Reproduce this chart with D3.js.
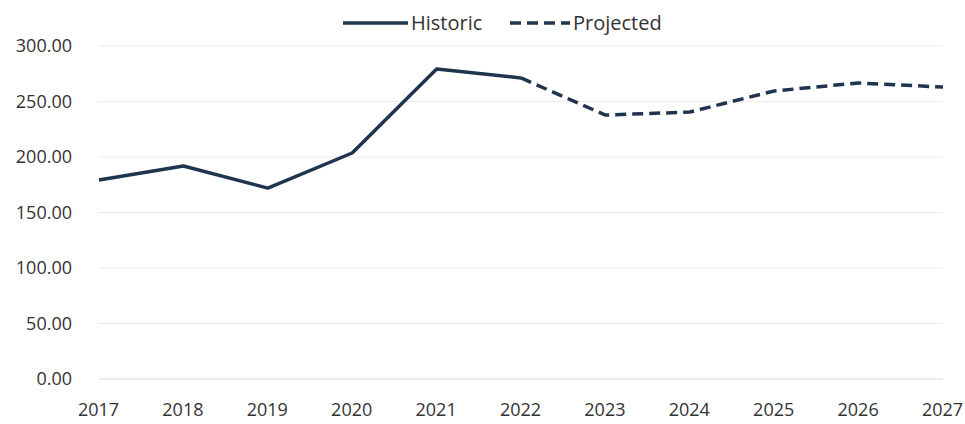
<!DOCTYPE html>
<html lang="en">
<head>
    <meta charset="UTF-8">
    <title>Historic vs Projected</title>
    <script src="https://d3js.org/d3.v7.min.js"></script>
    <style>
        body { margin: 0; background: #fff; }
        svg text { font-family: "Open Sans", "Noto Sans", sans-serif; fill: #333; }
    </style>
</head>
<body>
    <svg id="chart" width="965" height="424"></svg>

    <script>
        // Chart data
        const years = [2017, 2018, 2019, 2020, 2021, 2022, 2023, 2024, 2025, 2026, 2027];
        const historic = [179.3, 191.9, 172.0, 203.6, 279.3, 271.2];
        const projected = [271.2, 237.8, 240.5, 259.5, 266.7, 263.0];
        const projectedYears = [2022, 2023, 2024, 2025, 2026, 2027];
        const yTicks = [0, 50, 100, 150, 200, 250, 300];

        const svg = d3.select('#chart');
        const margin = { top: 46, right: 24, bottom: 45, left: 99 };
        const width = 943 - margin.left;
        const height = 379 - margin.top;

        const x = d3.scaleLinear().domain([2017, 2027]).range([0, width]);
        const y = d3.scaleLinear().domain([0, 300]).range([height, 0]);

        const g = svg.append('g').attr('transform', `translate(${margin.left},${margin.top})`);

        // Gridlines
        g.append('g')
            .selectAll('line')
            .data(yTicks)
            .join('line')
            .attr('x1', 0)
            .attr('x2', width)
            .attr('y1', d => y(d))
            .attr('y2', d => y(d))
            .attr('stroke', d => d === 0 ? '#d9d9d9' : '#ececec')
            .attr('stroke-width', 1);

        // Y axis labels
        const yAxis = g.append('g')
            .attr('transform', 'translate(-24,0)')
            .call(d3.axisLeft(y).tickValues(yTicks).tickFormat(d3.format('.2f')).tickSize(0));
        yAxis.select('.domain').remove();
        yAxis.selectAll('text').attr('font-size', 18).attr('dy', '0.33em');

        // X axis labels
        const xAxis = g.append('g')
            .attr('transform', `translate(-1,${height + 19})`)
            .call(d3.axisBottom(x).tickValues(years).tickFormat(d3.format('d')).tickSize(0));
        xAxis.select('.domain').remove();
        xAxis.selectAll('text').attr('font-size', 18).attr('dy', '0.85em');

        const line = d3.line()
            .x(d => x(d[0]))
            .y(d => y(d[1]));

        const lineColor = '#1f344d';

        // Historic series
        g.append('path')
            .datum(historic.map((v, i) => [years[i], v]))
            .attr('fill', 'none')
            .attr('stroke', lineColor)
            .attr('stroke-width', 3.5)
            .attr('stroke-linejoin', 'round')
            .attr('d', line);

        // Projected series
        g.append('path')
            .datum(projected.map((v, i) => [projectedYears[i], v]))
            .attr('fill', 'none')
            .attr('stroke', lineColor)
            .attr('stroke-width', 3.5)
            .attr('stroke-dasharray', '11,6')
            .attr('d', line);

        // Legend
        const legend = svg.append('g').attr('transform', 'translate(343,23)');
        legend.append('line')
            .attr('x1', 0).attr('x2', 65).attr('y1', 0).attr('y2', 0)
            .attr('stroke', lineColor).attr('stroke-width', 3.5);
        legend.append('text')
            .attr('x', 68).attr('y', 0).attr('dy', '0.33em')
            .attr('font-size', 20)
            .text('Historic');
        legend.append('line')
            .attr('x1', 167).attr('x2', 227).attr('y1', 0).attr('y2', 0)
            .attr('stroke', lineColor).attr('stroke-width', 3.5)
            .attr('stroke-dasharray', '11,6');
        legend.append('text')
            .attr('x', 230).attr('y', 0).attr('dy', '0.33em')
            .attr('font-size', 20)
            .text('Projected');
    </script>
</body>
</html>
